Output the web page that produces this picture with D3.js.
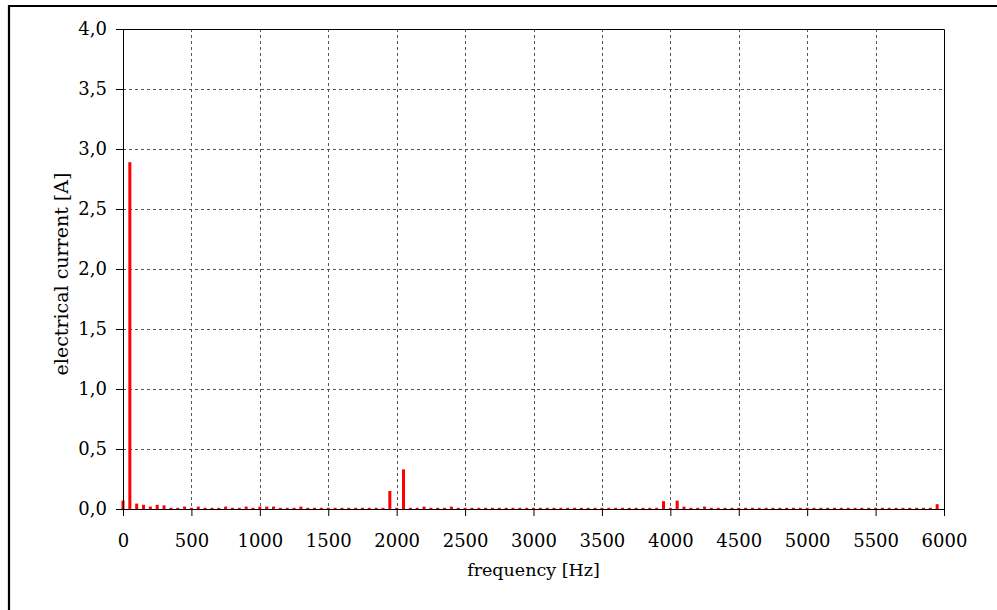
<!DOCTYPE html>
<html>
<head>
<meta charset="utf-8">
<script src="https://cdn.jsdelivr.net/npm/d3@7"></script>
<style>
  body { margin: 0; background: #fff; }
  svg { display: block; }
</style>
</head>
<body>
<div id="chart"></div>
<script>
// harmonic frequencies [Hz], one row per 500 Hz
const frequencies = [
  0, 50, 100, 150, 200, 250, 300, 350, 400, 450,
  500, 550, 600, 650, 700, 750, 800, 850, 900, 950,
  1000, 1050, 1100, 1150, 1200, 1250, 1300, 1350, 1400, 1450,
  1500, 1550, 1600, 1650, 1700, 1750, 1800, 1850, 1900, 1950,
  2000, 2050, 2100, 2150, 2200, 2250, 2300, 2350, 2400, 2450,
  2500, 2550, 2600, 2650, 2700, 2750, 2800, 2850, 2900, 2950,
  3000, 3050, 3100, 3150, 3200, 3250, 3300, 3350, 3400, 3450,
  3500, 3550, 3600, 3650, 3700, 3750, 3800, 3850, 3900, 3950,
  4000, 4050, 4100, 4150, 4200, 4250, 4300, 4350, 4400, 4450,
  4500, 4550, 4600, 4650, 4700, 4750, 4800, 4850, 4900, 4950,
  5000, 5050, 5100, 5150, 5200, 5250, 5300, 5350, 5400, 5450,
  5500, 5550, 5600, 5650, 5700, 5750, 5800, 5850, 5900, 5950
];
// current amplitude [A]
const currents = [
  0.07, 2.89, 0.045, 0.035, 0.02, 0.035, 0.03, 0.01, 0.01, 0.02,
  0.01, 0.02, 0.01, 0.01, 0.01, 0.02, 0.01, 0.01, 0.02, 0.01,
  0.02, 0.02, 0.02, 0.01, 0.01, 0.01, 0.02, 0.01, 0.01, 0.01,
  0.01, 0.01, 0.01, 0.01, 0.01, 0.01, 0.01, 0.01, 0.01, 0.15,
  0.01, 0.33, 0.01, 0.01, 0.02, 0.01, 0.01, 0.01, 0.02, 0.01,
  0.01, 0.01, 0.01, 0.01, 0.01, 0.01, 0.01, 0.01, 0.01, 0.01,
  0.01, 0.01, 0.01, 0.01, 0.01, 0.01, 0.01, 0.01, 0.01, 0.01,
  0.01, 0.01, 0.01, 0.01, 0.01, 0.01, 0.01, 0.01, 0.01, 0.065,
  0.01, 0.07, 0.02, 0.01, 0.01, 0.02, 0.01, 0.01, 0.01, 0.01,
  0.01, 0.01, 0.01, 0.01, 0.01, 0.01, 0.01, 0.01, 0.01, 0.01,
  0.01, 0.01, 0.01, 0.01, 0.01, 0.01, 0.01, 0.01, 0.01, 0.01,
  0.01, 0.01, 0.01, 0.01, 0.01, 0.01, 0.01, 0.01, 0.01, 0.04
];
const xTicks = [0, 500, 1000, 1500, 2000, 2500, 3000, 3500, 4000, 4500, 5000, 5500, 6000];
const yTicks = [0, 0.5, 1, 1.5, 2, 2.5, 3, 3.5, 4];

const width = 997, height = 610;
const plotL = 123, plotR = 944, plotT = 29, plotB = 509;
const font = "'DejaVu Serif', 'Liberation Serif', serif";

const svg = d3.select("#chart").append("svg")
  .attr("width", width)
  .attr("height", height);

// outer frame (top and left edges only)
svg.append("path")
  .attr("d", `M9,${height} V6 H${width}`)
  .attr("fill", "none")
  .attr("stroke", "#000")
  .attr("stroke-width", 2.2);

const x = d3.scaleLinear().domain([0, 6000]).range([plotL, plotR]);
const y = d3.scaleLinear().domain([0, 4]).range([plotB, plotT]);

// grid
const grid = svg.append("g")
  .attr("stroke", "#555")
  .attr("stroke-width", 1)
  .attr("stroke-dasharray", "3,3");
grid.selectAll(".gx")
  .data(xTicks.slice(1, -1))
  .enter().append("line")
  .attr("x1", d => Math.round(x(d)) + 0.5)
  .attr("x2", d => Math.round(x(d)) + 0.5)
  .attr("y1", plotT)
  .attr("y2", plotB);
grid.selectAll(".gy")
  .data(yTicks.slice(1, -1))
  .enter().append("line")
  .attr("x1", plotL)
  .attr("x2", plotR)
  .attr("y1", d => Math.round(y(d)) + 0.5)
  .attr("y2", d => Math.round(y(d)) + 0.5);

// bars
svg.append("g")
  .selectAll("rect")
  .data(frequencies.map((f, i) => ({ f: f, v: currents[i] })))
  .enter().append("rect")
  .attr("x", d => x(d.f) - 1.5)
  .attr("width", 3)
  .attr("y", d => y(d.v))
  .attr("height", d => y(0) - y(d.v))
  .attr("fill", "#ff0000");

const fmt = d => d3.format(".1f")(d).replace(".", ",");

const xAxis = svg.append("g")
  .attr("transform", `translate(0,${plotB})`)
  .call(d3.axisBottom(x).tickValues(xTicks).tickFormat(d3.format("d"))
    .tickSize(7).tickPadding(18).tickSizeOuter(0));
const yAxis = svg.append("g")
  .attr("transform", `translate(${plotL},0)`)
  .call(d3.axisLeft(y).tickValues(yTicks).tickFormat(fmt)
    .tickSize(7).tickPadding(9).tickSizeOuter(0));

[xAxis, yAxis].forEach(a => {
  a.select(".domain").attr("stroke", "#000");
  a.selectAll(".tick line").attr("stroke", "#000");
  a.selectAll(".tick text")
    .attr("fill", "#000")
    .style("font-family", font)
    .style("font-size", "18px");
});

// top and right border of plot
svg.append("path")
  .attr("d", `M${plotL},${plotT + 0.5} H${plotR + 0.5} V${plotB}`)
  .attr("fill", "none")
  .attr("stroke", "#000");

svg.append("text")
  .attr("x", (plotL + plotR) / 2)
  .attr("y", 576)
  .attr("text-anchor", "middle")
  .style("font-family", font)
  .style("font-size", "17.5px")
  .text("frequency [Hz]");

svg.append("text")
  .attr("transform", `translate(68,274) rotate(-90)`)
  .attr("text-anchor", "middle")
  .style("font-family", font)
  .style("font-size", "19px")
  .text("electrical current [A]");
</script>
</body>
</html>
